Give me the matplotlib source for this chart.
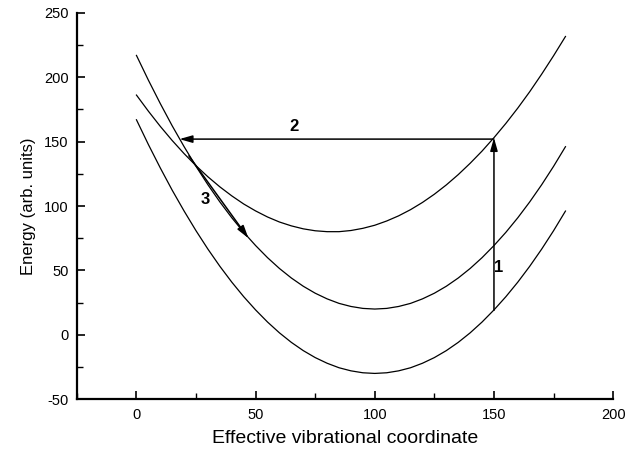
import matplotlib
matplotlib.use("Agg")
import matplotlib.pyplot as plt
from matplotlib.ticker import MultipleLocator

plt.rcParams['font.family'] = ['Liberation Sans', 'DejaVu Sans']
plt.rcParams['axes.unicode_minus'] = False

# coordinate samples
x_vals = [0, 5, 10, 15, 20, 25, 30, 35, 40, 45, 50, 55, 60, 65, 70, 75, 80, 85, 90,
          95, 100, 105, 110, 115, 120, 125, 130, 135, 140, 145, 150, 155, 160, 165,
          170, 175, 180]
# upper curve (minimum near 82, 80)
upper = [186.2, 173.7, 161.9, 150.9, 140.7, 131.3, 122.7, 114.9, 107.9, 101.6, 96.2,
         91.5, 87.6, 84.6, 82.3, 80.8, 80.1, 80.1, 81.0, 82.7, 85.1, 88.4, 92.4, 97.2,
         102.8, 109.2, 116.4, 124.4, 133.2, 142.7, 153.1, 164.2, 176.1, 188.8, 202.4,
         216.7, 231.7]
# middle curve (minimum near 100, 20)
middle = [217.0, 197.8, 179.6, 162.3, 146.1, 130.8, 116.5, 103.2, 90.9, 79.6, 69.3,
          59.9, 51.5, 44.1, 37.7, 32.3, 27.9, 24.4, 22.0, 20.5, 20.0, 20.5, 22.0, 24.4,
          27.9, 32.3, 37.7, 44.1, 51.5, 59.9, 69.3, 79.6, 90.9, 103.2, 116.5, 130.8,
          146.1]
# lower curve (minimum near 100, -30)
lower = [167.0, 147.8, 129.6, 112.3, 96.1, 80.8, 66.5, 53.2, 40.9, 29.6, 19.3, 9.9,
         1.5, -5.9, -12.3, -17.7, -22.1, -25.6, -28.0, -29.5, -30.0, -29.5, -28.0,
         -25.6, -22.1, -17.7, -12.3, -5.9, 1.5, 9.9, 19.3, 29.6, 40.9, 53.2, 66.5,
         80.8, 96.1]

# arrows: (start x, start y, end x, end y)
arrow1 = (150, 19, 150, 153)
arrow2 = (150, 152, 18, 152)
arrow3 = (22, 139, 47, 75)
labels = [("1", 152, 52), ("2", 66, 162), ("3", 29, 105)]

fig = plt.figure(figsize=(6.25, 4.62), dpi=100)
ax = fig.add_axes([0.123, 0.136, 0.858, 0.836])

for ys in (upper, middle, lower):
    ax.plot(x_vals, ys, color='black', lw=0.9)

for (x0, y0, x1, y1) in (arrow1, arrow2, arrow3):
    ax.annotate("", xy=(x1, y1), xytext=(x0, y0),
                arrowprops=dict(arrowstyle='-|>,head_length=0.7,head_width=0.2',
                                color='black', lw=1.1,
                                mutation_scale=11, shrinkA=0, shrinkB=0))

for t, lx, ly in labels:
    ax.text(lx, ly, t, fontsize=12, fontweight='bold', ha='center', va='center')

ax.set_xlim(-25, 200)
ax.set_ylim(-50, 250)
ax.xaxis.set_major_locator(MultipleLocator(50))
ax.xaxis.set_minor_locator(MultipleLocator(25))
ax.yaxis.set_major_locator(MultipleLocator(50))
ax.yaxis.set_minor_locator(MultipleLocator(25))

ax.spines['top'].set_visible(False)
ax.spines['right'].set_visible(False)
for s in ('left', 'bottom'):
    ax.spines[s].set_linewidth(1.6)

ax.tick_params(which='major', direction='in', length=6, width=1.2, labelsize=10.5, pad=6)
ax.tick_params(which='minor', direction='in', length=4, width=1.0)

ax.set_xlabel("Effective vibrational coordinate", fontsize=14, labelpad=6)
ax.set_ylabel("Energy (arb. units)", fontsize=12, labelpad=6)

fig.savefig("out.png", dpi=100)
